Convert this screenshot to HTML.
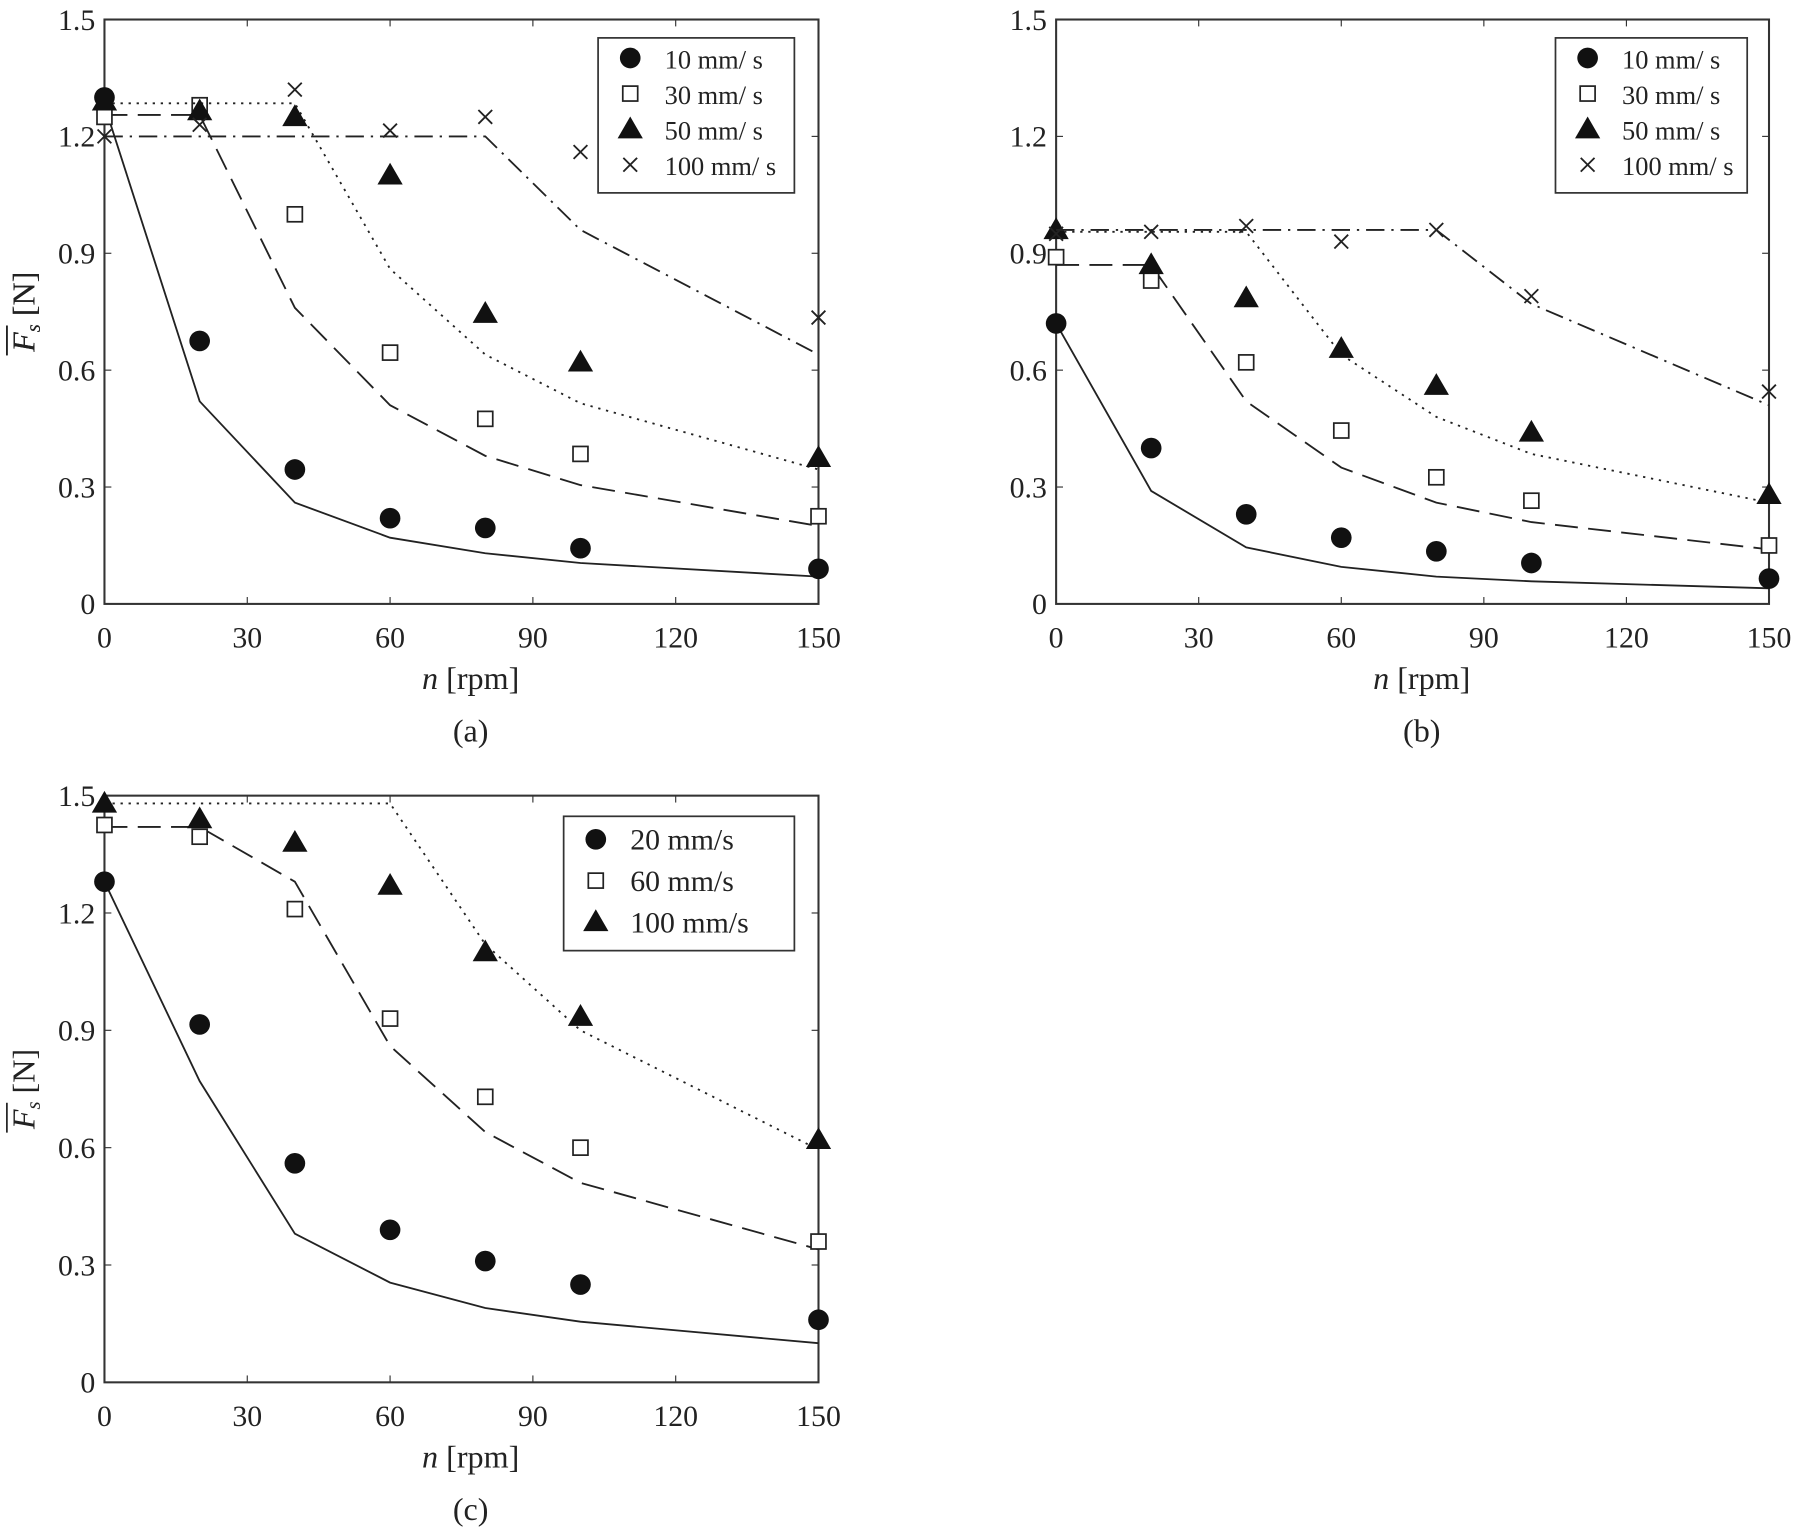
<!DOCTYPE html>
<html><head><meta charset="utf-8"><style>
html,body{margin:0;padding:0;background:#fff;}
svg{display:block;}
text{font-family:"Liberation Serif",serif;fill:#222;}
</style></head><body>
<svg id="s" width="1800" height="1527" viewBox="0 0 1568 1330" preserveAspectRatio="none" xmlns="http://www.w3.org/2000/svg"></svg>
<script>
const S=document.getElementById('s');let h='';
function P(ax,x,y){return [ax.x0+(ax.x1-ax.x0)*x/150, ax.y0-(ax.y0-ax.y1)*y/1.5];}
const dash={solid:'',dashed:'20 9',dotted:'2 5',dashdot:'16 6 2 6'};
function plot(ax,series,legend,lab){
 const {x0,x1,y0,y1}=ax;
 h+=`<rect x="${x0}" y="${y1}" width="${x1-x0}" height="${y0-y1}" fill="none" stroke="#333" stroke-width="1.8"/>`;
 for(let i=0;i<=5;i++){const v=i*0.3;const y=y0-(y0-y1)*i/5;
  h+=`<line x1="${x0}" y1="${y}" x2="${x0+6}" y2="${y}" stroke="#333"/><line x1="${x1}" y1="${y}" x2="${x1-6}" y2="${y}" stroke="#333"/>`;
  h+=`<text x="${x0-8}" y="${y+9}" font-size="26" text-anchor="end">${i==0?'0':v.toFixed(1)}</text>`;}
 for(let i=0;i<=5;i++){const x=x0+(x1-x0)*i/5;
  h+=`<line x1="${x}" y1="${y0}" x2="${x}" y2="${y0-6}" stroke="#333"/><line x1="${x}" y1="${y1}" x2="${x}" y2="${y1+6}" stroke="#333"/>`;
  h+=`<text x="${x}" y="${y0+38}" font-size="26" text-anchor="middle">${i*30}</text>`;}
 const cx=(x0+x1)/2;
 h+=`<text x="${cx+8}" y="${y0+74}" font-size="28" text-anchor="middle"><tspan font-style="italic">n</tspan> [rpm]</text>`;
 h+=`<text x="${cx+8}" y="${y0+120}" font-size="28" text-anchor="middle">${lab}</text>`;
 const cy=(y0+y1)/2;
 h+=`<g transform="translate(30,${cy}) rotate(-90)"><text x="0" y="0" font-size="28" text-anchor="middle"><tspan font-style="italic">F</tspan><tspan font-style="italic" font-size="18" dy="5">s</tspan><tspan dy="-5"> [N]</tspan></text><line x1="-38" y1="-24" x2="-12" y2="-24" stroke="#222" stroke-width="1.5"/></g>`;
 for(const s of series){
  h+=`<polyline fill="none" stroke="#222" stroke-width="1.6" stroke-dasharray="${dash[s.ls]}" points="${s.line.map(p=>P(ax,p[0],p[1]).join(',')).join(' ')}"/>`;
  for(const p of s.pts){const [x,y]=P(ax,p[0],p[1]);h+=mk(s.m,x,y);}
 }
 const L=legend;
 h+=`<rect x="${L.x}" y="${L.y}" width="${L.w}" height="${L.h}" fill="#fff" stroke="#333" stroke-width="1.5"/>`;
 L.items.forEach((it,i)=>{const yy=L.y+L.dy*(i+0.5)+2;h+=mk(it[0],L.x+28,yy);
  h+=`<text x="${L.x+58}" y="${yy+9}" font-size="${L.fs}">${it[1]}</text>`;});
}
function mk(m,x,y){
 if(m=='o')return `<circle cx="${x}" cy="${y}" r="9" fill="#111"/>`;
 if(m=='s')return `<rect x="${x-6.5}" y="${y-6.5}" width="13" height="13" fill="#fff" stroke="#222" stroke-width="1.5"/>`;
 if(m=='t')return `<polygon points="${x},${y-11} ${x-11},${y+8} ${x+11},${y+8}" fill="#111"/>`;
 if(m=='x')return `<path d="M${x-6} ${y-6}L${x+6} ${y+6}M${x-6} ${y+6}L${x+6} ${y-6}" stroke="#222" stroke-width="1.6"/>`;
}
const X=[0,20,40,60,80,100,150];
const z=a=>a.map((v,i)=>[X[i],v]);
plot({x0:91,x1:713,y0:526,y1:17},[
 {m:'o',ls:'solid',pts:z([1.30,0.675,0.345,0.22,0.195,0.143,0.09]),line:z([1.28,0.52,0.26,0.17,0.13,0.105,0.07])},
 {m:'s',ls:'dashed',pts:z([1.25,1.28,1.0,0.645,0.475,0.385,0.225]),line:z([1.255,1.255,0.76,0.51,0.38,0.305,0.2])},
 {m:'t',ls:'dotted',pts:z([1.29,1.265,1.25,1.10,0.745,0.62,0.375]),line:[[0,1.285],[40,1.285],[60,0.86],[80,0.64],[100,0.515],[150,0.345]]},
 {m:'x',ls:'dashdot',pts:z([1.20,1.23,1.32,1.215,1.25,1.16,0.735]),line:[[0,1.2],[80,1.2],[100,0.96],[150,0.64]]}
],{x:521,y:33,w:171,h:135,dy:31,fs:23,items:[['o','10 mm/ s'],['s','30 mm/ s'],['t','50 mm/ s'],['x','100 mm/ s']]},'(a)');
plot({x0:920,x1:1541,y0:526,y1:17},[
 {m:'o',ls:'solid',pts:z([0.72,0.40,0.23,0.17,0.135,0.105,0.065]),line:z([0.72,0.29,0.145,0.095,0.07,0.058,0.04])},
 {m:'s',ls:'dashed',pts:z([0.89,0.83,0.62,0.445,0.325,0.265,0.15]),line:z([0.87,0.87,0.52,0.35,0.26,0.21,0.14])},
 {m:'t',ls:'dotted',pts:z([0.96,0.87,0.785,0.655,0.56,0.44,0.28]),line:[[0,0.955],[40,0.955],[60,0.64],[80,0.48],[100,0.385],[150,0.26]]},
 {m:'x',ls:'dashdot',pts:z([0.95,0.955,0.97,0.93,0.96,0.79,0.545]),line:[[0,0.96],[80,0.96],[100,0.77],[150,0.51]]}
],{x:1355,y:33,w:167,h:135,dy:31,fs:23,items:[['o','10 mm/ s'],['s','30 mm/ s'],['t','50 mm/ s'],['x','100 mm/ s']]},'(b)');
plot({x0:91,x1:713,y0:1204,y1:693},[
 {m:'o',ls:'solid',pts:z([1.28,0.915,0.56,0.39,0.31,0.25,0.16]),line:z([1.28,0.77,0.38,0.255,0.19,0.155,0.1])},
 {m:'s',ls:'dashed',pts:z([1.425,1.395,1.21,0.93,0.73,0.6,0.36]),line:z([1.42,1.42,1.28,0.86,0.64,0.51,0.34])},
 {m:'t',ls:'dotted',pts:z([1.48,1.44,1.38,1.27,1.10,0.935,0.62]),line:[[0,1.48],[60,1.48],[80,1.12],[100,0.9],[150,0.595]]}
],{x:491,y:711,w:201,h:117,dy:36,fs:26,items:[['o','20 mm/s'],['s','60 mm/s'],['t','100 mm/s']]},'(c)');
S.innerHTML=h;
</script>
</body></html>
